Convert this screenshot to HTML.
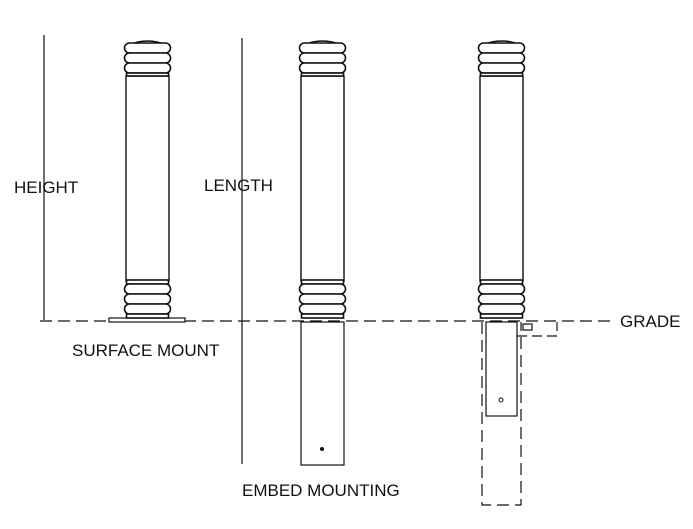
<!DOCTYPE html>
<html><head><style>
body{margin:0;background:#fff;width:693px;height:529px;overflow:hidden}
svg{display:block}
text{font-family:"Liberation Sans Narrow","Liberation Sans",sans-serif;font-size:17px;fill:#111}
</style></head><body>
<svg width="693" height="529" viewBox="0 0 693 529" xmlns="http://www.w3.org/2000/svg">
<defs>
<g id="top" fill="#fff" stroke="#111" stroke-width="1.6">
<path d="M-19 8 Q0 0 19 8"/>
<rect x="-23" y="6" width="46" height="10" rx="5"/>
<rect x="-23" y="16" width="46" height="10" rx="5"/>
<rect x="-23" y="26" width="46" height="10" rx="5"/>
<rect x="-21" y="36" width="42" height="3"/>
</g>
<g id="bot" fill="#fff" stroke="#111" stroke-width="1.6">
<rect x="-21" y="0" width="42" height="4"/>
<rect x="-23" y="4" width="46" height="10" rx="5"/>
<rect x="-23" y="14" width="46" height="10" rx="5"/>
<rect x="-23" y="24" width="46" height="10" rx="5"/>
<rect x="-21" y="34" width="42" height="4"/>
</g>
</defs>
<g stroke="#111" stroke-width="1.2" fill="none">
<line x1="44" y1="35" x2="44" y2="320"/>
<line x1="242" y1="38" x2="242" y2="464"/>
<line x1="40" y1="321" x2="612" y2="321" stroke-dasharray="12,6"/>
<rect x="126" y="76" width="43" height="205" stroke-width="1.4"/>
<rect x="109" y="318" width="76" height="4" fill="#fff"/>
<rect x="301" y="76" width="43" height="205" stroke-width="1.4"/>
<rect x="301" y="322" width="43" height="143" fill="#fff"/>
<rect x="480" y="76" width="43" height="205" stroke-width="1.4"/>
<path d="M482 322 V505 H521 V322" stroke-dasharray="12,6"/>
<rect x="486" y="322" width="31" height="94" fill="#fff"/>
<path d="M517 336 H557 V322" stroke-dasharray="10,5"/>
<rect x="523" y="324" width="9" height="6"/>
</g>
<use href="#top" x="147.5" y="37"/>
<use href="#top" x="322.5" y="37"/>
<use href="#top" x="501.5" y="37"/>
<use href="#bot" x="147.5" y="280"/>
<use href="#bot" x="322.5" y="280"/>
<use href="#bot" x="501.5" y="280"/>
<circle cx="322" cy="449" r="2" fill="#111"/>
<circle cx="501" cy="400" r="2" fill="none" stroke="#111"/>
<text x="14" y="193">HEIGHT</text>
<text x="204" y="191">LENGTH</text>
<text x="72" y="356">SURFACE MOUNT</text>
<text x="242" y="496">EMBED MOUNTING</text>
<text x="620" y="327">GRADE</text>
</svg>
</body></html>
